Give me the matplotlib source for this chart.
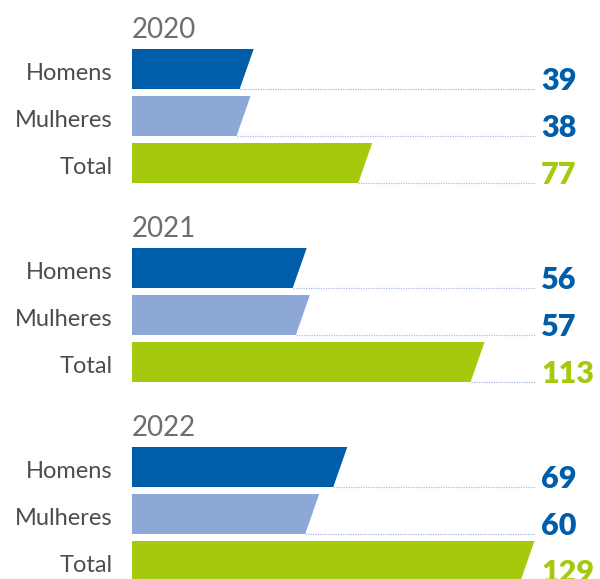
import matplotlib.pyplot as plt
from matplotlib.patches import Polygon

# data
years = ['2020', '2021', '2022']
categories = ['Homens', 'Mulheres', 'Total']
homens = [39, 56, 69]
mulheres = [38, 57, 60]
total = [77, 113, 129]

bar_colors = ['#005DA9', '#8DA7D6', '#A5C90D']
value_colors = ['#005DA9', '#005DA9', '#A5C90D']
label_gray = '#4D4D4F'
year_gray = '#6D6E70'
dot_color = '#A9BBE0'

W, H = 600, 579
x0 = 132          # pixel where bars start
scale = 3.12      # pixels per unit
slant = 14 / scale

fig = plt.figure(figsize=(W / 100, H / 100), dpi=100)
ax = fig.add_axes([0, 0, 1, 1])
ax.set_xlim(-x0 / scale, (W - x0) / scale)
ax.set_ylim(H, 0)
ax.axis('off')


def px(x):
    # pixel x -> data x
    return (x - x0) / scale


series = [homens, mulheres, total]
for g, year in enumerate(years):
    gtop = 49 + 199 * g
    ax.text(px(132), gtop - 11, year, ha='left', va='baseline',
            fontsize=20, color=year_gray, family='Lato')
    for i, cat in enumerate(categories):
        v = series[i][g]
        top = gtop + 47 * i
        bottom = top + 40
        poly = Polygon([(0, top), (v, top), (v - slant, bottom), (0, bottom)],
                       closed=True, facecolor=bar_colors[i], edgecolor='none')
        ax.add_patch(poly)
        ax.plot([v - slant, px(535)], [bottom, bottom], linestyle=(0, (1, 1)),
                color=dot_color, lw=0.9)
        ax.text(px(113), bottom - 9, cat, ha='right', va='baseline',
                fontsize=17, color=label_gray, family='Lato')
        ax.text(px(541), bottom + 1, str(v), ha='left', va='baseline',
                fontsize=22, color=value_colors[i], family='Lato', fontweight='heavy')

fig.savefig('out.png', dpi=100)
